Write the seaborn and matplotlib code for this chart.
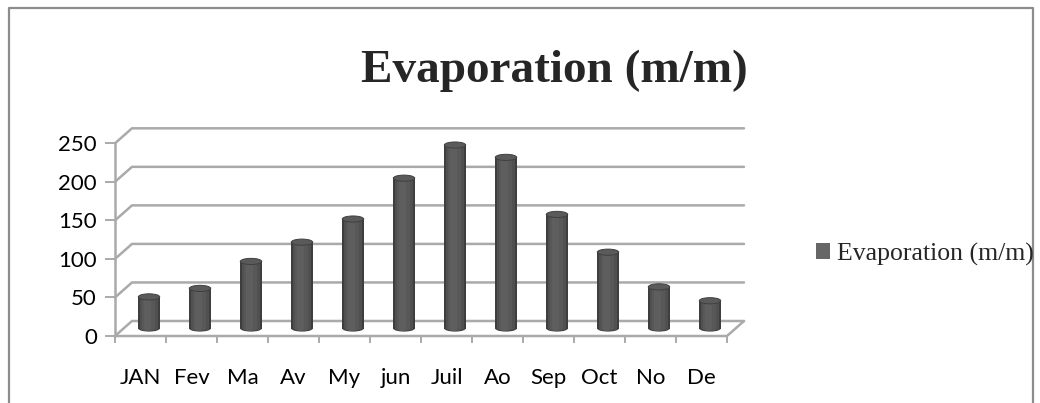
import numpy as np
import pandas as pd
import matplotlib
matplotlib.use("Agg")
import matplotlib.pyplot as plt
import matplotlib.transforms as mtrans
from matplotlib.patches import Ellipse, Rectangle, Patch
from matplotlib.lines import Line2D
import seaborn as sns

# data
months = ["JAN", "Fev", "Ma", "Av", "My", "jun", "Juil", "Ao", "Sep", "Oct", "No", "De"]
evaporation = [41, 52, 87, 112, 142, 195, 238, 222, 148, 99, 54, 36]
y_ticks = [0, 50, 100, 150, 200, 250]
series_name = "Evaporation (m/m)"

W, H, DPI = 1040, 403, 100
GRID = "#aaaaaa"

sns.set_theme(style="white")
plt.rcParams["font.family"] = ["Lato", "DejaVu Sans"]

fig = plt.figure(figsize=(W / DPI, H / DPI), dpi=DPI)
fig.patch.set_facecolor("white")

# front face of the fake 3d box, in pixels of the picture
left, right, base, top = 115, 727, 336, 143.3
ax = fig.add_axes([left / W, (H - base) / H, (right - left) / W, (base - top) / H])
ax.set_xlim(-0.5, len(months) - 0.5)
ax.set_ylim(0, y_ticks[-1])
ax.patch.set_alpha(0)
for s in ax.spines.values():
    s.set_visible(False)

# depth offset of the back wall (pixels) turned into data units
dpx, dpy = 17, 15
ux = len(months) / (right - left)
uy = y_ticks[-1] / (base - top)
bx, by = dpx * ux, dpy * uy
x0, x1 = -0.5, len(months) - 0.5

# side wall + back wall gridlines
for v in y_ticks:
    ax.plot([x0, x0 + bx, x1 + bx], [v, v + by, v + by], color=GRID, lw=1.8,
            clip_on=False, zorder=1, solid_joinstyle="miter")
ax.plot([x0, x0], [0, y_ticks[-1]], color=GRID, lw=1.8, clip_on=False, zorder=1)
ax.plot([x0, x1, x1 + bx], [0, 0, by], color=GRID, lw=1.8, clip_on=False, zorder=1)

df = pd.DataFrame({"month": months, "value": evaporation})
sns.barplot(data=df, x="month", y="value", color="#3e3e3e", saturation=1,
            width=0.42, ax=ax, zorder=3)

# push the columns half way back into the box and give them a cylinder look
mid = ax.transData + mtrans.ScaledTranslation(dpx / 2 / DPI, dpy / 2 / DPI, fig.dpi_scale_trans)
eh = 8.0
for p in list(ax.patches):
    p.set_transform(mid)
    p.set_clip_on(False)
    p.set_edgecolor("none")
    x, w, h = p.get_x(), p.get_width(), p.get_height()
    cx = x + w / 2
    ax.add_patch(Ellipse((cx, 0), w, eh, facecolor="#3e3e3e", edgecolor="none",
                         transform=mid, clip_on=False, zorder=2.9))
    for frac, off, col in [(0.80, 0.10, "#505050"), (0.60, 0.16, "#585858"), (0.30, 0.28, "#5e5e5e")]:
        ax.add_patch(Rectangle((x + w * off, 0), w * frac, h, facecolor=col,
                               edgecolor="none", transform=mid, clip_on=False, zorder=3.1))
        ax.add_patch(Ellipse((x + w * (off + frac / 2), 0), w * frac, eh * 0.8, facecolor=col,
                             edgecolor="none", transform=mid, clip_on=False, zorder=3.05))
    ax.add_patch(Ellipse((cx, h), w, eh, facecolor="#5a5a5a", edgecolor="#404040",
                         lw=0.7, transform=mid, clip_on=False, zorder=3.2))

# ticks and labels
ax.set_yticks(y_ticks)
ax.set_xticks(range(len(months)))
ax.set_xticks(np.arange(-0.5, len(months)), minor=True)
ax.set_xticklabels(months)
ax.set_xlabel("")
ax.set_ylabel("")
ax.tick_params(axis="y", left=True, length=7, width=1.4, color=GRID, pad=6,
               labelsize=16, labelcolor="black")
ax.tick_params(axis="x", which="major", bottom=True, length=0, pad=23,
               labelsize=16, labelcolor="black")
ax.tick_params(axis="x", which="minor", bottom=True, length=5, width=1.4, color=GRID)
ax.grid(False)

fig.text(554 / W, 1 - 82 / H, series_name, ha="center", va="baseline",
         family="Liberation Serif", weight="bold", size=34)

fig.legend(handles=[Patch(facecolor="#666666", edgecolor="none", label=series_name)],
           loc="center left", bbox_to_anchor=(816 / W, 1 - 254 / H), frameon=False,
           prop={"family": "Liberation Serif", "size": 18.5},
           handlelength=0.55, handleheight=0.55, handletextpad=0.25,
           borderpad=0, borderaxespad=0)

# chart frame
fig.add_artist(Line2D([9 / W, 9 / W, 1033 / W, 1033 / W], [0, 1 - 8 / H, 1 - 8 / H, 0],
                      transform=fig.transFigure, color="#8c8c8c", lw=1.6))

fig.savefig("out.png", dpi=DPI, facecolor="white")
